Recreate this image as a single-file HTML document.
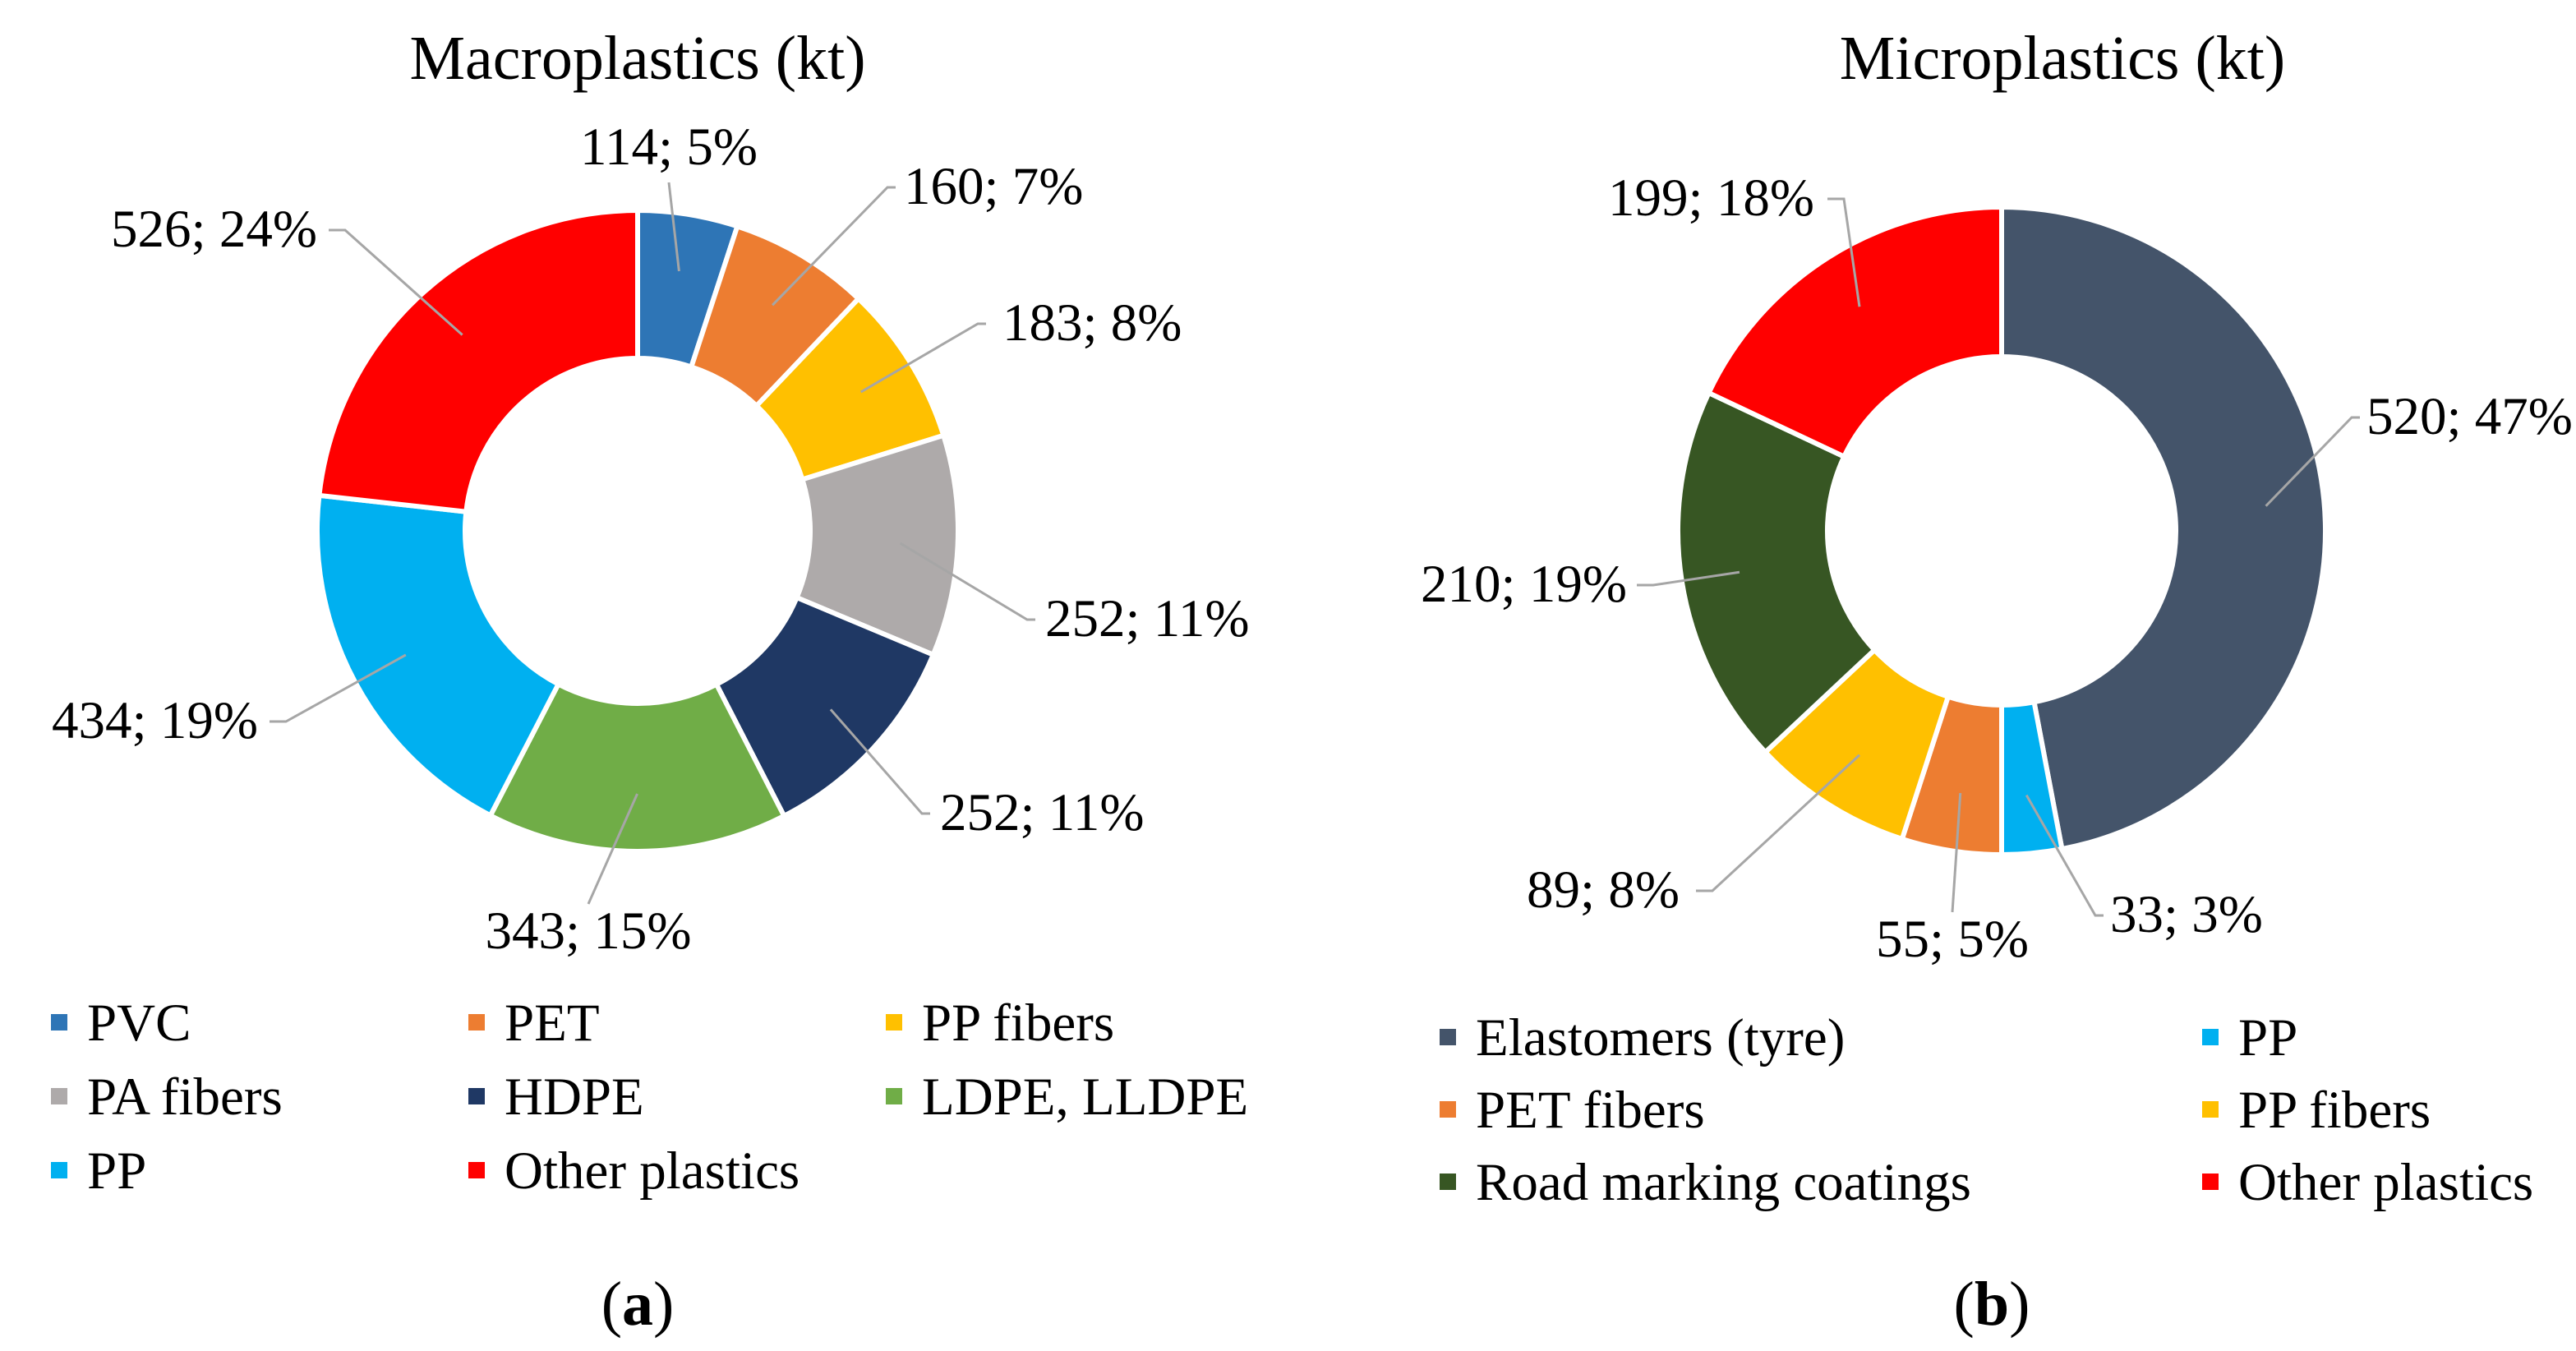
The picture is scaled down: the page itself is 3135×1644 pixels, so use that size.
<!DOCTYPE html>
<html><head><meta charset="utf-8"><style>
html,body{margin:0;padding:0;background:#fff;font-family:"Liberation Serif","Times New Roman",serif;}
svg{display:block;}
svg text{font-family:"Liberation Serif","Times New Roman",serif;}
</style></head><body>
<svg id="chart" width="3135" height="1644" viewBox="0 0 3135 1644" xmlns="http://www.w3.org/2000/svg" font-family="Liberation Serif, serif">
<text x="776" y="96" font-size="76" text-anchor="middle">Macroplastics (kt)</text>
<text x="2510" y="96" font-size="76" text-anchor="middle">Microplastics (kt)</text>
<text x="776" y="1612" font-size="76" text-anchor="middle">(<tspan font-weight="bold">a</tspan>)</text>
<text x="2424" y="1612" font-size="76" text-anchor="middle">(<tspan font-weight="bold">b</tspan>)</text>
<g id="macro"></g><g id="micro"></g>
</svg>
<script>
const macroCategories = ["PVC","PET","PP fibers","PA fibers","HDPE","LDPE, LLDPE","PP","Other plastics"];
const macroValues = [114,160,183,252,252,343,434,526];
const macroPercents = ["5%","7%","8%","11%","11%","15%","19%","24%"];
const microCategories = ["Elastomers (tyre)","PP","PET fibers","PP fibers","Road marking coatings","Other plastics"];
const microValues = [520,33,55,89,210,199];
const microPercents = ["47%","3%","5%","8%","19%","18%"];

const macroColors = ["#2E75B6","#ED7D31","#FFC000","#AEAAAA","#1F3864","#70AD47","#00B0F0","#FF0000"];
const microColors = ["#44546A","#00B0F0","#ED7D31","#FFC000","#375623","#FF0000"];
const macroLabelPos = [[814,200,"middle",null],[1100,248,"start",1090],[1220,414,"start",1200],[1272,774,"start",1260],[1144,1010,"start",1132],[716,1154,"middle",null],[314,898,"end",328],[386,300,"end",400]];
const microLabelPos = [[2880,528,"start",2872],[2568,1134,"start",2560],[2376,1164,"middle",null],[2044,1104,"end",2064],[1980,732,"end",1992],[2208,262,"end",2224]];
const NS="http://www.w3.org/2000/svg";

function drawDonut(gid, name, cx, cy, R, r, cats, vals, pcts, colors, lpos, legend){
  const g=document.getElementById(gid);
  const total=vals.reduce((a,b)=>a+b,0);
  let a0=0;
  vals.forEach((v,i)=>{
    const a1=a0+v/total*2*Math.PI;
    const p=(rad,ang)=>[cx+rad*Math.sin(ang), cy-rad*Math.cos(ang)];
    const [x1,y1]=p(R,a0),[x2,y2]=p(R,a1),[x3,y3]=p(r,a1),[x4,y4]=p(r,a0);
    const large=(a1-a0)>Math.PI?1:0;
    const path=document.createElementNS(NS,"path");
    path.setAttribute("d",`M${x1},${y1}A${R},${R} 0 ${large} 1 ${x2},${y2}L${x3},${y3}A${r},${r} 0 ${large} 0 ${x4},${y4}Z`);
    path.setAttribute("fill",colors[i]);path.setAttribute("stroke","#fff");path.setAttribute("stroke-width","6");
    
    
    g.appendChild(path);
    const mid=(a0+a1)/2, [mx,my]=p((R+r)/2+20,mid);
    const L=lpos[i];
    const ly=L[1]-20;
    let pts;
    if(L[3]===null){ pts=`${mx},${my} ${L[0]},${L[1]>cy?L[1]-54:L[1]+22}`; }
    else { const ex=L[2]==="end"?L[3]+20:L[3]-10; pts=`${mx},${my} ${ex},${ly} ${L[3]},${ly}`; }
    const pl=document.createElementNS(NS,"polyline");
    pl.setAttribute("points",pts);pl.setAttribute("fill","none");pl.setAttribute("stroke","#A6A6A6");pl.setAttribute("stroke-width","3");
    
    
    g.appendChild(pl);
    const t=document.createElementNS(NS,"text");
    t.setAttribute("x",L[0]);t.setAttribute("y",L[1]);t.setAttribute("font-size","65");t.setAttribute("text-anchor",L[2]);
    t.setAttribute("font-family","Liberation Serif, serif");
    t.textContent=vals[i]+"; "+pcts[i];
    
    
    g.appendChild(t);
    a0=a1;
  });
  cats.forEach((c,i)=>{
    const col=i%legend.cols, row=Math.floor(i/legend.cols);
    const x=legend.xs[col], y=legend.y0+row*legend.dy;
    const rc=document.createElementNS(NS,"rect");
    rc.setAttribute("x",x);rc.setAttribute("y",y-10);rc.setAttribute("width",20);rc.setAttribute("height",20);rc.setAttribute("fill",colors[i]);
    
    
    g.appendChild(rc);
    const t=document.createElementNS(NS,"text");
    t.setAttribute("x",x+44);t.setAttribute("y",y+22);t.setAttribute("font-size","65");
    t.setAttribute("font-family","Liberation Serif, serif");
    t.textContent=c;
    
    
    g.appendChild(t);
  });
}
drawDonut("macro","macro",776,646,390,210,macroCategories,macroValues,macroPercents,macroColors,macroLabelPos,{cols:3,xs:[62,570,1078],y0:1244,dy:90});
drawDonut("micro","micro",2436,646,394,212,microCategories,microValues,microPercents,microColors,microLabelPos,{cols:2,xs:[1752,2680],y0:1262,dy:88});
</script>
</body></html>
